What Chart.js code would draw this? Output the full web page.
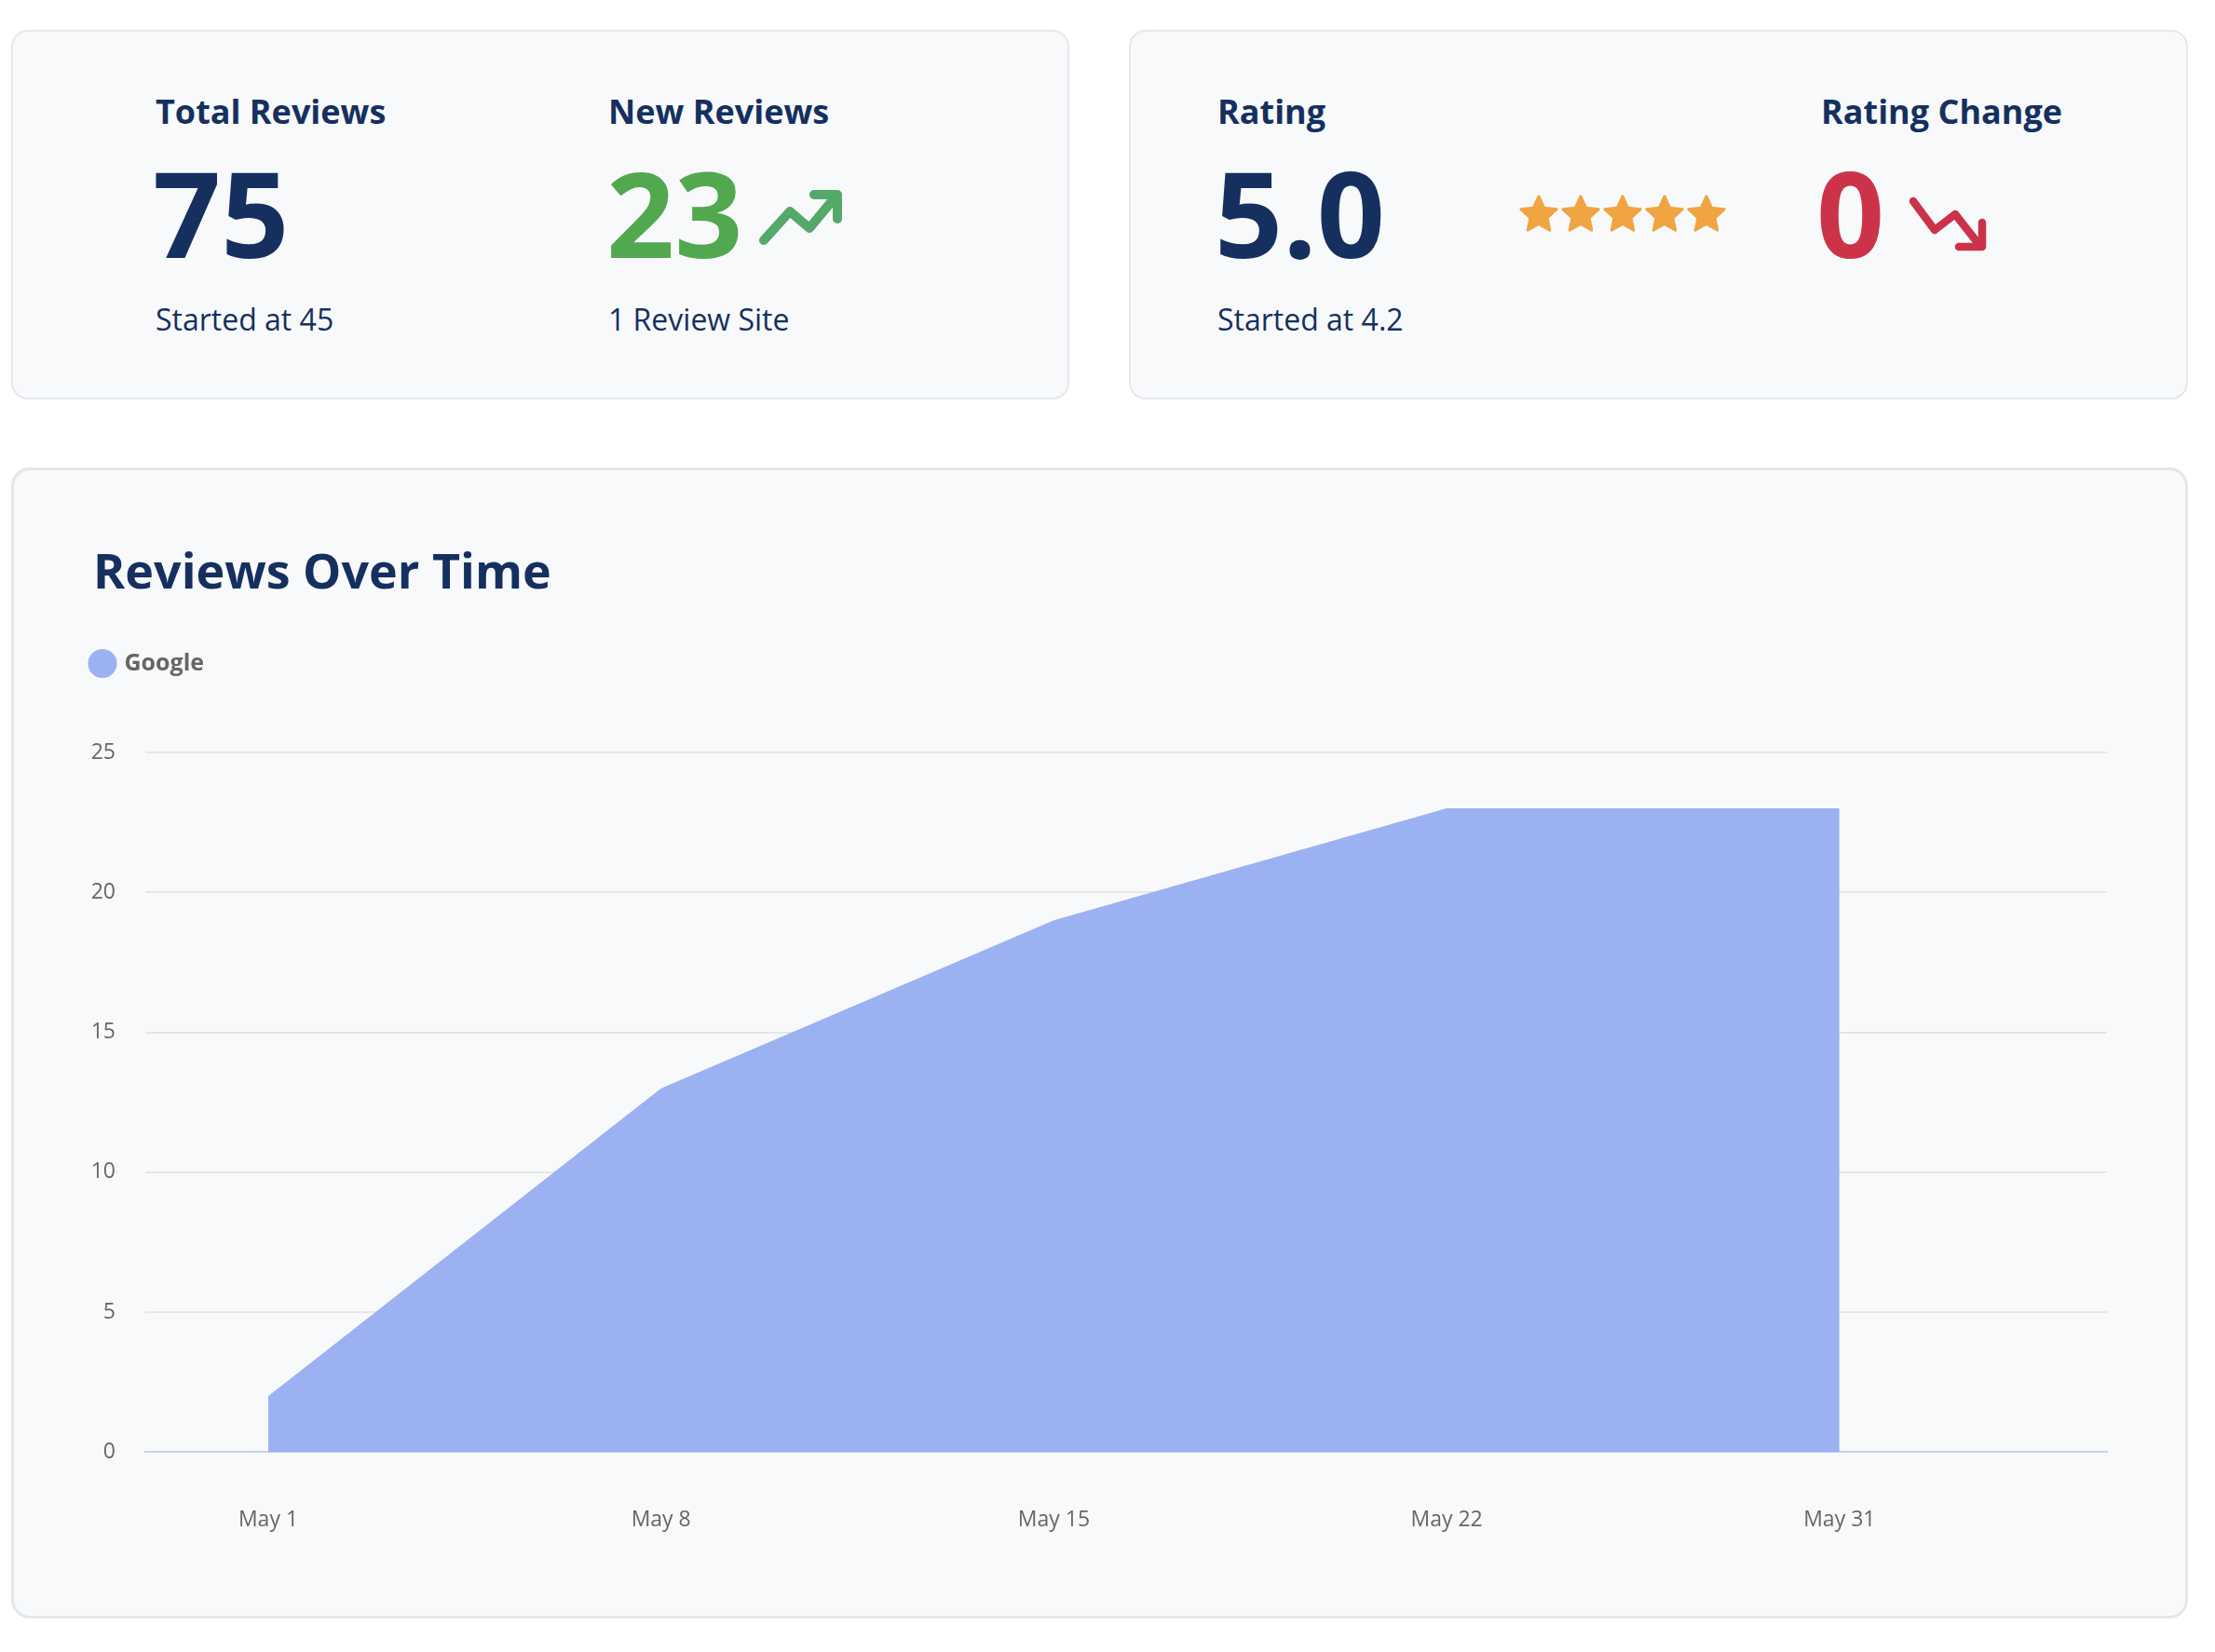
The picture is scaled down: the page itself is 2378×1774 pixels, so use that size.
<!DOCTYPE html>
<html>
<head>
<meta charset="utf-8">
<title>Reviews Over Time</title>
<script src="https://cdn.jsdelivr.net/npm/chart.js@4.4.1/dist/chart.umd.min.js"></script>
<style>
	html, body {
		margin: 0;
		padding: 0;
		background: #ffffff;
		font-family: 'Open Sans', sans-serif;
	}
	.page {
		position: relative;
		width: 2378px;
		height: 1774px;
		overflow: hidden;
	}
	.card {
		position: absolute;
		box-sizing: border-box;
		background: #f8f9fa;
		border: 2px solid #e5e8ec;
		border-radius: 18px;
	}
	.txt {
		position: absolute;
		line-height: 1;
		white-space: nowrap;
		color: #15305f;
	}
	.label { font-size: 36px; font-weight: 700; top: 102px; }
	.big { font-size: 128px; font-weight: 700; top: 164px; }
	.sub { font-size: 32px; font-weight: 400; top: 327px; }
	.icon { position: absolute; overflow: visible; }
	.stars { position: absolute; left: 1629px; top: 207px; display: flex; }
	.stars svg { width: 46px; height: 46px; margin-right: -1px; }
	.title { font-size: 52px; font-weight: 700; top: 586px; left: 100px; }
	.chart-box {
		position: absolute;
		left: 89px;
		top: 690px;
		width: 2211px;
		height: 1015px;
	}
</style>
</head>
<body>
<div class="page">
	<div class="card" style="left:12px; top:32px; width:1136px; height:397px;"></div>
	<div class="card" style="left:1212px; top:32px; width:1137px; height:397px;"></div>
	<div class="card" style="left:12px; top:502px; width:2337px; height:1236px; border-width:3px; border-color:#e3e7eb; border-radius:20px;"></div>

	<!-- top left card -->
	<div class="txt label" style="left:167px;">Total Reviews</div>
	<div class="txt big" style="left:164px;">75</div>
	<div class="txt sub" style="left:167px;">Started at 45</div>

	<div class="txt label" style="left:653px;">New Reviews</div>
	<div class="txt big" style="left:651px; color:#52a84f;">23</div>
	<svg class="icon" style="left:812px; top:200px;" width="95" height="66">
		<polyline points="8,58 36,27 57,45 86,10" fill="none" stroke="#54a868" stroke-width="10" stroke-linecap="round" stroke-linejoin="round"/>
		<polyline points="62,9 87,9 87,35" fill="none" stroke="#54a868" stroke-width="10" stroke-linecap="round" stroke-linejoin="round"/>
	</svg>
	<div class="txt sub" style="left:653px;">1 Review Site</div>

	<!-- top right card -->
	<div class="txt label" style="left:1307px;">Rating</div>
	<div class="txt big" style="left:1304px;">5.0</div>
	<div class="txt sub" style="left:1307px;">Started at 4.2</div>

	<div class="stars" id="stars"></div>

	<div class="txt label" style="left:1955px;">Rating Change</div>
	<div class="txt big" style="left:1950px; color:#cc3349;">0</div>
	<svg class="icon" style="left:2045px; top:205px;" width="95" height="70">
		<polyline points="9,11 32,42 54,25 80,58" fill="none" stroke="#cc3349" stroke-width="8.5" stroke-linecap="round" stroke-linejoin="round"/>
		<polyline points="58,60 83,60 83,34" fill="none" stroke="#cc3349" stroke-width="8.5" stroke-linecap="round" stroke-linejoin="round"/>
	</svg>

	<!-- chart card -->
	<div class="txt title">Reviews Over Time</div>
	<div class="chart-box">
		<canvas id="reviewsChart"></canvas>
	</div>
</div>

<script>
// chart data
var categories = ["May 1", "May 8", "May 15", "May 22", "May 31"];
var googleReviews = [2, 13, 19, 23, 23];
var yTicks = [0, 5, 10, 15, 20, 25];
var ratingStars = 5;

// rating stars
var starPoints = "25,4 31.17,17.51 45.92,19.2 34.99,29.24 37.93,43.8 25,36.5 12.07,43.8 15.01,29.24 4.08,19.2 18.83,17.51";
var starsBox = document.getElementById('stars');
for (var i = 0; i < ratingStars; i++) {
	starsBox.innerHTML += '<svg viewBox="0 0 50 50"><polygon points="' + starPoints +
		'" fill="#f0a442" stroke="#f0a442" stroke-width="3" stroke-linejoin="round"/></svg>';
}

// push the plot area down below the legend
var legendGap = {
	id: 'legendGap',
	beforeInit: function (chart) {
		var fit = chart.legend.fit;
		chart.legend.fit = function () {
			fit.call(this);
			this.height += 73;
		};
	}
};

Chart.defaults.font.family = "'Open Sans', sans-serif";
Chart.defaults.font.size = 23;
Chart.defaults.color = '#666666';

var ctx = document.getElementById('reviewsChart').getContext('2d');
new Chart(ctx, {
	type: 'line',
	data: {
		datasets: [{
			label: 'Google',
			data: googleReviews.map(function (v, i) { return { x: i, y: v }; }),
			backgroundColor: '#9cb1f2',
			borderColor: '#9cb1f2',
			borderWidth: 0,
			pointRadius: 0,
			pointStyle: 'circle',
			fill: 'origin',
			tension: 0
		}]
	},
	options: {
		responsive: true,
		maintainAspectRatio: false,
		animation: false,
		layout: {
			padding: { left: 0, right: 38, top: 0, bottom: 0 }
		},
		plugins: {
			legend: {
				position: 'top',
				align: 'start',
				labels: {
					usePointStyle: true,
					boxWidth: 22,
					boxHeight: 22,
					padding: 10,
					color: '#666666',
					font: { size: 25, weight: 'bold' }
				}
			},
			tooltip: { enabled: false }
		},
		scales: {
			x: {
				type: 'linear',
				bounds: 'data',
				min: -0.313,
				max: 4.681,
				afterBuildTicks: function (scale) {
					scale.ticks = categories.map(function (c, i) { return { value: i }; });
				},
				grid: { display: false, drawTicks: false },
				border: { display: true, color: '#c9d1ee', width: 2 },
				ticks: {
					padding: 59,
					autoSkip: false,
					maxRotation: 0,
					callback: function (value) {
						return categories[value];
					}
				}
			},
			y: {
				min: yTicks[0],
				max: yTicks[yTicks.length - 1],
				afterFit: function (scale) {
					scale.width = 67;
				},
				grid: { color: '#e6e6e6', lineWidth: 2, drawTicks: false },
				border: { display: false },
				ticks: {
					stepSize: yTicks[1] - yTicks[0],
					padding: 32
				}
			}
		}
	},
	plugins: [legendGap]
});
</script>
</body>
</html>
